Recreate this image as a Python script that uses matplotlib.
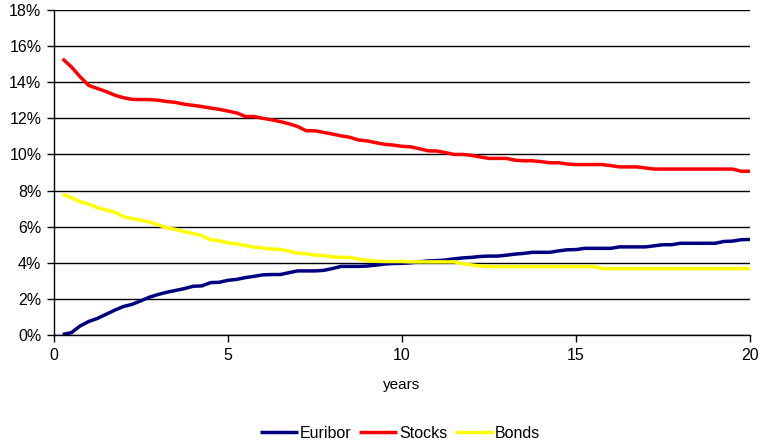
import matplotlib
matplotlib.use("Agg")
import matplotlib.pyplot as plt
from matplotlib.ticker import FuncFormatter, MultipleLocator

plt.rcParams['font.family'] = ['Liberation Sans', 'DejaVu Sans']

years = [0.25 * (i + 1) for i in range(80)]

euribor = [0.03, 0.13, 0.50, 0.75, 0.92, 1.15, 1.38, 1.58, 1.70, 1.90,
           2.10, 2.25, 2.37, 2.47, 2.57, 2.70, 2.72, 2.90, 2.92, 3.03,
           3.08, 3.18, 3.25, 3.33, 3.35, 3.35, 3.45, 3.55, 3.55, 3.55,
           3.58, 3.68, 3.80, 3.80, 3.80, 3.82, 3.87, 3.93, 3.96, 3.97,
           4.00, 4.05, 4.10, 4.12, 4.15, 4.22, 4.27, 4.30, 4.35, 4.37,
           4.37, 4.42, 4.48, 4.52, 4.58, 4.58, 4.58, 4.66, 4.72, 4.73,
           4.80, 4.80, 4.80, 4.80, 4.88, 4.88, 4.88, 4.88, 4.94, 5.00,
           5.00, 5.08, 5.08, 5.08, 5.08, 5.08, 5.18, 5.20, 5.28, 5.29]

stocks = [15.29, 14.85, 14.30, 13.82, 13.65, 13.48, 13.28, 13.14, 13.05, 13.04,
          13.04, 13.00, 12.93, 12.88, 12.78, 12.72, 12.65, 12.57, 12.50, 12.40,
          12.30, 12.10, 12.10, 12.00, 11.92, 11.82, 11.70, 11.55, 11.31, 11.31,
          11.22, 11.13, 11.03, 10.95, 10.80, 10.75, 10.65, 10.56, 10.52, 10.45,
          10.42, 10.32, 10.20, 10.19, 10.10, 10.00, 10.00, 9.95, 9.86, 9.78,
          9.78, 9.78, 9.68, 9.65, 9.65, 9.60, 9.54, 9.54, 9.47, 9.44,
          9.44, 9.44, 9.44, 9.38, 9.31, 9.31, 9.31, 9.25, 9.19, 9.19,
          9.19, 9.19, 9.19, 9.19, 9.19, 9.19, 9.19, 9.19, 9.07, 9.07]

bonds = [7.80, 7.60, 7.38, 7.25, 7.05, 6.92, 6.80, 6.55, 6.45, 6.35,
         6.25, 6.10, 5.93, 5.85, 5.72, 5.62, 5.50, 5.27, 5.22, 5.10,
         5.05, 4.95, 4.87, 4.82, 4.76, 4.74, 4.65, 4.53, 4.50, 4.42,
         4.40, 4.33, 4.30, 4.30, 4.20, 4.14, 4.08, 4.07, 4.07, 4.07,
         4.05, 4.05, 4.05, 4.05, 4.05, 4.05, 3.95, 3.88, 3.82, 3.79,
         3.79, 3.79, 3.79, 3.79, 3.79, 3.79, 3.79, 3.79, 3.79, 3.79,
         3.79, 3.79, 3.68, 3.68, 3.68, 3.68, 3.68, 3.68, 3.68, 3.68,
         3.68, 3.68, 3.68, 3.68, 3.68, 3.68, 3.68, 3.68, 3.68, 3.68]

series_names = ["Euribor", "Stocks", "Bonds"]
colors = ["#000080", "#FF0000", "#FFFF00"]

fig = plt.figure(figsize=(7.6, 4.46), dpi=100)
ax = fig.add_axes([54 / 760, 1 - 335 / 446, (750 - 54) / 760, (335 - 10) / 446])

for name, vals, c in zip(series_names, [euribor, stocks, bonds], colors):
    ax.plot(years, vals, color=c, lw=2.5, label=name, solid_capstyle='butt')

ax.set_xlim(0, 20)
ax.set_ylim(0, 18)
ax.xaxis.set_major_locator(MultipleLocator(5))
ax.yaxis.set_major_locator(MultipleLocator(2))
ax.yaxis.set_major_formatter(FuncFormatter(lambda v, p: f"{v:.0f}%"))
ax.grid(axis='y', color='black', lw=1.0)
ax.set_axisbelow(True)
for s in ['top', 'right']:
    ax.spines[s].set_visible(False)
for s in ['left', 'bottom']:
    ax.spines[s].set_color('black')
    ax.spines[s].set_linewidth(1.0)
ax.tick_params(axis='both', direction='out', length=5, width=1, labelsize=11.5, colors='black', pad=4)

ax.set_xlabel("years", fontsize=11)
ax.xaxis.set_label_coords(0.5, -(378 - 335) / 325)

fig.legend(loc='center', bbox_to_anchor=(400 / 760, 1 - 433 / 446), ncol=3, frameon=False,
           fontsize=11.5, handlelength=2.4, handletextpad=0.1, columnspacing=0.5)

fig.savefig("out.png", dpi=100)
